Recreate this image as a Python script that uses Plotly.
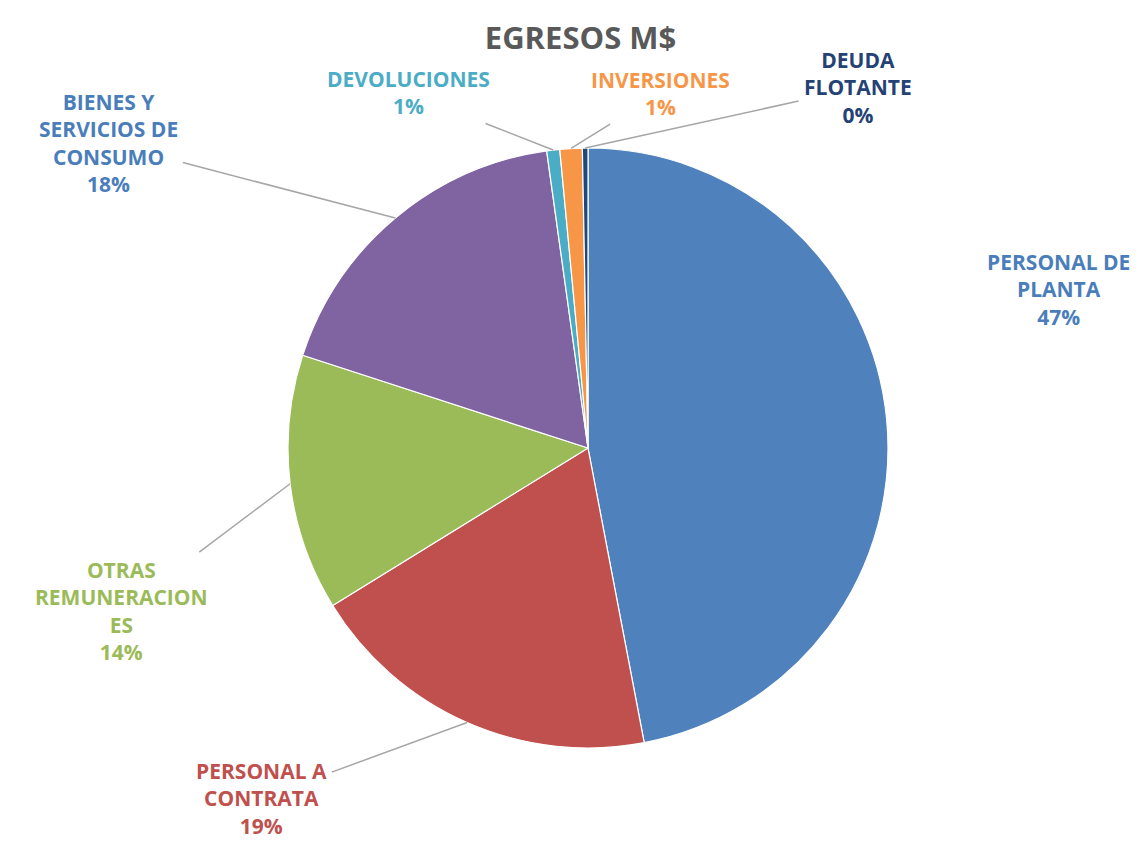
import math
import plotly.graph_objects as go

categories = [
    "PERSONAL DE PLANTA",
    "PERSONAL A CONTRATA",
    "OTRAS REMUNERACIONES",
    "BIENES Y SERVICIOS DE CONSUMO",
    "DEVOLUCIONES",
    "INVERSIONES",
    "DEUDA FLOTANTE",
]
label_text = [
    "PERSONAL DE<br>PLANTA",
    "PERSONAL A<br>CONTRATA",
    "OTRAS<br>REMUNERACION<br>ES",
    "BIENES Y<br>SERVICIOS DE<br>CONSUMO",
    "DEVOLUCIONES",
    "INVERSIONES",
    "DEUDA<br>FLOTANTE",
]
values = [47.0, 19.2, 13.8, 17.8, 0.7, 1.2, 0.3]

slice_colors = ["#4F81BD", "#C0504D", "#9BBB59", "#8064A2", "#4BACC6", "#F79646", "#1F497D"]
text_colors = ["#4A7EBB", "#C0504D", "#9BBB59", "#4A7EBB", "#4BACC6", "#F79646", "#254275"]

# label block centres (pixels from top-left), and whether a leader line is drawn
label_pos = [(1050, 282), (253, 790), (113, 603), (100, 135), (400, 85), (652, 85), (850, 80)]
leader = [False, True, True, True, True, True, True]

W, H = 1145, 844
CX, CY, R = 580, 440, 300  # pie centre / radius in pixels

fig = go.Figure(
    go.Pie(
        labels=categories,
        values=values,
        sort=False,
        direction="clockwise",
        rotation=0,
        textinfo="none",
        marker=dict(colors=slice_colors, line=dict(color="white", width=1.2)),
        showlegend=False,
        hoverinfo="label+value+percent",
        domain=dict(x=[(CX - R) / W, (CX + R) / W], y=[1 - (CY + R) / H, 1 - (CY - R) / H]),
    )
)

total = sum(values)
cum = 0.0
annotations = []
for i, v in enumerate(values):
    mid = (cum + v / 2) / total
    cum += v
    ang = 2 * math.pi * mid
    tipx = CX + R * math.sin(ang)
    tipy = CY - R * math.cos(ang)
    pct = round(v / total * 100)
    lx, ly = label_pos[i]
    txt = f"<b>{label_text[i]}<br>{pct}%</b>"
    if leader[i]:
        annotations.append(dict(
            x=tipx / W, y=1 - tipy / H, xref="paper", yref="paper",
            ax=lx - tipx, ay=ly - tipy, axref="pixel", ayref="pixel",
            text=txt, showarrow=True, arrowhead=0, arrowwidth=1.5,
            arrowcolor="#A6A6A6", standoff=0, startstandoff=4,
            font=dict(size=21, color=text_colors[i], family="Open Sans"),
            align="center",
        ))
    else:
        annotations.append(dict(
            x=lx / W, y=1 - ly / H, xref="paper", yref="paper",
            xanchor="center", yanchor="middle",
            text=txt, showarrow=False,
            font=dict(size=21, color=text_colors[i], family="Open Sans"),
            align="center",
        ))

fig.update_layout(
    width=W,
    height=H,
    paper_bgcolor="white",
    plot_bgcolor="white",
    font=dict(family="Open Sans", color="#595959"),
    title=dict(
        text="<b>EGRESOS M$</b>",
        x=0.5,
        xanchor="center",
        xref="container",
        y=1 - 30 / H,
        yanchor="middle",
        yref="container",
        font=dict(size=31, color="#595959", family="Open Sans"),
    ),
    margin=dict(l=0, r=0, t=0, b=0),
    annotations=annotations,
)

fig.write_html("out.html")
